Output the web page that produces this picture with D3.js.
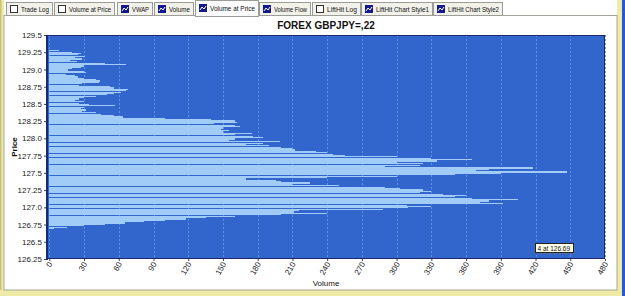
<!DOCTYPE html>
<html>
<head>
<meta charset="utf-8">
<script src="https://cdn.jsdelivr.net/npm/d3@7"></script>
<style>
  body { margin: 0; background: #fff; }
  svg { display: block; font-family: "Liberation Sans", Arial, sans-serif; }
</style>
</head>
<body>
<svg width="625" height="296"></svg>
<script>
const width = 625;
const height = 296;

// price bins (0.02 wide), lowest first
const startPrice = 126.69;
const priceStep = 0.02;
const volumes = [
  4, 15, 30, 48, 65, 82, 100, 118, 135, 160,
  200, 240, 211, 216, 288, 310, 330, 309, 392, 372,
  380, 405, 365, 350, 360, 340, 320, 330, 323, 303,
  290, 250, 210, 225, 200, 196, 170, 240, 300, 350,
  390, 447, 369, 380, 418, 290, 320, 323, 300, 335,
  365, 330, 300, 255, 245, 240, 230, 212, 210, 200,
  190, 170, 185, 199, 155, 160, 185, 176, 160, 175,
  150, 155, 148, 150, 165, 160, 142, 162, 160, 140,
  100, 64, 56, 45, 40, 28, 32, 27, 30, 57,
  34, 26, 30, 22, 26, 30, 40, 50, 56, 62,
  66, 68, 56, 52, 26, 28, 43, 44, 40, 30,
  25, 22, 14, 32, 30, 16, 20, 27, 30, 66,
  48, 24, 18, 28, 22, 31, 25, 27, 20, 8
];
const priceTicks = [126.25, 126.5, 126.75, 127.0, 127.25, 127.5, 127.75, 128.0, 128.25, 128.5, 128.75, 129.0, 129.25, 129.5];
const volumeTicks = [0, 30, 60, 90, 120, 150, 180, 210, 240, 270, 300, 330, 360, 390, 420, 450, 480];
const tabs = [
  { label: "Trade Log", x0: 6, x1: 52, icon: "box" },
  { label: "Volume at Price", x0: 54, x1: 114, icon: "box" },
  { label: "VWAP", x0: 117, x1: 152, icon: "chart" },
  { label: "Volume", x0: 154, x1: 193, icon: "chart" },
  { label: "Volume at Price", x0: 195, x1: 258, icon: "chart", active: true },
  { label: "Volume Flow", x0: 259, x1: 310, icon: "chart" },
  { label: "LiftHit Log", x0: 312, x1: 360, icon: "box" },
  { label: "LiftHit Chart Style1", x0: 361, x1: 432, icon: "chart" },
  { label: "LiftHit Chart Style2", x0: 433, x1: 502, icon: "chart" }
];

const bins = volumes.map((v, i) => ({ price: +(startPrice + i * priceStep).toFixed(2), volume: v }));

const svg = d3.select("svg");

// window frame
svg.append("rect").attr("x", 0).attr("y", 0).attr("width", 4).attr("height", height).attr("fill", "#efeba6");
svg.append("rect").attr("x", 0).attr("y", 0).attr("width", 1.5).attr("height", height).attr("fill", "#c9c27a");
svg.append("rect").attr("x", 617).attr("y", 0).attr("width", 5).attr("height", height).attr("fill", "#efeba6");
svg.append("rect").attr("x", 622).attr("y", 0).attr("width", 3).attr("height", height).attr("fill", "#2a58cc");
svg.append("rect").attr("x", 0).attr("y", 290).attr("width", 622).attr("height", 6).attr("fill", "#efeba6");
svg.append("rect").attr("x", 4).attr("y", 15.5).attr("width", 613).attr("height", 274.5)
  .attr("fill", "#fff").attr("stroke", "#a7a69a");

// tabs
const tab = svg.append("g").selectAll("g").data(tabs).enter().append("g");
tab.append("rect")
  .attr("x", (d) => d.x0 + 0.5)
  .attr("y", (d) => (d.active ? 0.5 : 2.5))
  .attr("width", (d) => d.x1 - d.x0)
  .attr("height", (d) => (d.active ? 16 : 13))
  .attr("fill", (d) => (d.active ? "#fcfcfe" : "#f2f1ea"))
  .attr("stroke", "#9a9c98");
tab.filter((d) => d.active).append("line")
  .attr("x1", (d) => d.x0 + 1).attr("x2", (d) => d.x1)
  .attr("y1", 15.5).attr("y2", 15.5).attr("stroke", "#fcfcfe");
tab.filter((d) => d.icon === "box").append("rect")
  .attr("x", (d) => d.x0 + 4.5).attr("y", 5.5).attr("width", 7).attr("height", 7)
  .attr("fill", "#fff").attr("stroke", "#333");
tab.filter((d) => d.icon === "chart").append("rect")
  .attr("x", (d) => d.x0 + 4).attr("y", (d) => (d.active ? 4 : 5)).attr("width", 8).attr("height", 8)
  .attr("fill", "#141a8c");
tab.filter((d) => d.icon === "chart").append("path")
  .attr("d", (d) => { const x = d.x0 + 4, y = d.active ? 4 : 5; return `M${x + 1},${y + 6}L${x + 3},${y + 3}L${x + 5},${y + 5}L${x + 7},${y + 2}`; })
  .attr("fill", "none").attr("stroke", "#fff").attr("stroke-width", 1);
tab.append("text")
  .attr("x", (d) => d.x0 + 15)
  .attr("y", (d) => (d.active ? 10.5 : 11.5))
  .attr("font-size", 7)
  .attr("fill", "#111")
  .attr("textLength", (d) => d.x1 - d.x0 - 18)
  .attr("lengthAdjust", "spacingAndGlyphs")
  .text((d) => d.label);

// plot
const plot = { left: 47, right: 605, top: 35, bottom: 259 };

const x = d3.scaleLinear().domain([-2, 480]).range([plot.left, plot.right]);
const y = d3.scaleLinear().domain([126.25, 129.5]).range([plot.bottom, plot.top]);

svg.append("rect")
  .attr("x", plot.left).attr("y", plot.top)
  .attr("width", plot.right - plot.left).attr("height", plot.bottom - plot.top)
  .attr("fill", "#3366cc");

svg.append("g")
  .selectAll("line")
  .data(volumeTicks)
  .enter()
  .append("line")
  .attr("x1", (d) => Math.round(x(d)) + 0.5)
  .attr("x2", (d) => Math.round(x(d)) + 0.5)
  .attr("y1", plot.top)
  .attr("y2", plot.bottom)
  .attr("stroke", "#6391e2")
  .attr("stroke-width", 1)
  .attr("stroke-dasharray", "2,2");

const half = priceStep / 2;
svg.append("g")
  .attr("shape-rendering", "crispEdges")
  .selectAll("rect")
  .data(bins)
  .enter()
  .append("rect")
  .attr("x", x(0))
  .attr("y", (d) => y(d.price + half))
  .attr("width", (d) => x(d.volume) - x(0))
  .attr("height", (d) => y(d.price - half) - y(d.price + half) - 0.2)
  .attr("fill", "#a0ccf7");

svg.append("rect")
  .attr("x", plot.left + 0.5).attr("y", plot.top + 0.5)
  .attr("width", plot.right - plot.left - 1).attr("height", plot.bottom - plot.top - 1)
  .attr("fill", "none").attr("stroke", "#1a2a6a");
svg.append("line")
  .attr("x1", plot.left).attr("x2", plot.left)
  .attr("y1", plot.top).attr("y2", plot.bottom + 1)
  .attr("stroke", "#1a2a6a").attr("stroke-width", 2);

// axes
const fmtPrice = (d) => (d % 1 === 0 ? d.toFixed(1) : String(d));
const yAxis = svg.append("g")
  .attr("transform", `translate(${plot.left - 1},0)`)
  .call(d3.axisLeft(y).tickValues(priceTicks).tickFormat(fmtPrice).tickSize(2).tickPadding(2));
yAxis.select(".domain").remove();
yAxis.selectAll("text").attr("font-size", 8).attr("fill", "#222").attr("font-family", "Liberation Sans, Arial, sans-serif");
yAxis.selectAll("line").attr("stroke", "#444");

const xAxis = svg.append("g")
  .attr("transform", `translate(0,${plot.bottom})`)
  .call(d3.axisBottom(x).tickValues(volumeTicks).tickFormat(d3.format("d")).tickSize(2));
xAxis.select(".domain").remove();
xAxis.selectAll("line").attr("stroke", "#444");
xAxis.selectAll("text")
  .attr("font-size", 8)
  .attr("fill", "#222")
  .attr("font-family", "Liberation Sans, Arial, sans-serif")
  .attr("text-anchor", "end")
  .attr("dy", null)
  .attr("x", 0)
  .attr("y", 0)
  .attr("transform", "translate(3,5) rotate(-60)");

svg.append("text")
  .attr("x", (plot.left + plot.right) / 2)
  .attr("y", 29)
  .attr("text-anchor", "middle")
  .attr("font-size", 10)
  .attr("font-weight", "bold")
  .attr("fill", "#111")
  .text("FOREX GBPJPY=,22");

svg.append("text")
  .attr("transform", `translate(17,${(plot.top + plot.bottom) / 2}) rotate(-90)`)
  .attr("text-anchor", "middle")
  .attr("font-size", 8)
  .attr("font-weight", "bold")
  .attr("fill", "#111")
  .text("Price");

svg.append("text")
  .attr("x", (plot.left + plot.right) / 2)
  .attr("y", 286)
  .attr("text-anchor", "middle")
  .attr("font-size", 8)
  .attr("fill", "#111")
  .text("Volume");

// hover tooltip for the lowest bin
const tip = svg.append("g").attr("transform", "translate(535,243)");
tip.append("rect").attr("x", 1.5).attr("y", 1.5).attr("width", 38).attr("height", 9).attr("fill", "#777");
tip.append("rect").attr("x", 0.5).attr("y", 0.5).attr("width", 38).attr("height", 9)
  .attr("fill", "#ffffe8").attr("stroke", "#222");
tip.append("text").attr("x", 2.5).attr("y", 7.8).attr("font-size", 6.5).attr("fill", "#111")
  .text(`${bins[0].volume} at ${bins[0].price}`);
</script>
</body>
</html>
